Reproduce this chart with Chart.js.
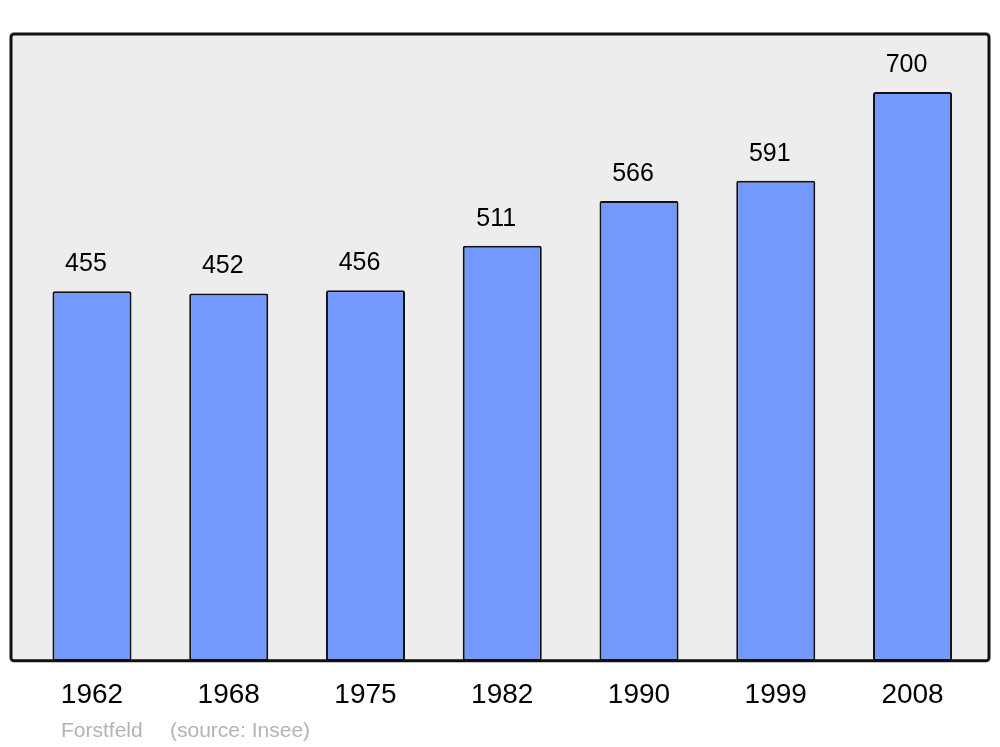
<!DOCTYPE html>
<html lang="fr">
<head>
<meta charset="utf-8" />
<title>Forstfeld population</title>
<script src="https://cdn.jsdelivr.net/npm/chart.js@4.4"></script>
<style>
  html,body{margin:0;padding:0;background:#fff;}
  #wrap{width:1000px;height:747px;position:relative;}
</style>
</head>
<body>
<div id="wrap"><canvas id="pop"></canvas></div>
<script>
/***** ---------- Data ---------- *****/
const years=['1962','1968','1975','1982','1990','1999','2008'];
const population=[455,452,456,511,566,591,700];
const place='Forstfeld';
const source='(source: Insee)';

const FONT="'Liberation Sans',Arial,sans-serif";

/***** ---------- Plugins ---------- *****/
// grey frame behind the bars, border drawn on top
function frameRect(area){
  return {x:area.left-12.6,y:area.top,w:(area.right+8.1)-(area.left-12.6),h:area.bottom-area.top};
}
const framePlugin={
  id:'frame',
  beforeDatasetsDraw(chart){
    const {ctx}=chart,r=frameRect(chart.chartArea);
    ctx.save();
    ctx.beginPath();ctx.roundRect(r.x,r.y,r.w,r.h,3);
    ctx.fillStyle='#ededed';ctx.fill();
    ctx.restore();
  },
  afterDatasetsDraw(chart){
    const {ctx}=chart,r=frameRect(chart.chartArea);
    ctx.save();
    ctx.beginPath();ctx.roundRect(r.x,r.y,r.w,r.h,3);
    ctx.lineWidth=3;ctx.strokeStyle='#111';ctx.stroke();
    // value labels
    ctx.font='25px '+FONT;ctx.fillStyle='#000';ctx.textAlign='center';ctx.textBaseline='middle';
    chart.getDatasetMeta(0).data.forEach((bar,i)=>{
      ctx.fillText(String(population[i]),bar.x-6,bar.y-27);
    });
    // footer
    ctx.font='21px '+FONT;ctx.fillStyle='#b3b3b3';ctx.textAlign='left';
    ctx.fillText(place,61,731);
    ctx.fillText(source,170,731);
    ctx.restore();
  }
};

/***** ---------- Chart ---------- *****/
new Chart(document.getElementById('pop'),{
  type:'bar',
  data:{labels:years,datasets:[{
    data:population,
    backgroundColor:'#7399ff',
    borderColor:'#111',
    borderWidth:2,
    borderRadius:2,
    borderSkipped:false,
    categoryPercentage:1,
    barPercentage:0.578
  }]},
  options:{
    responsive:true,maintainAspectRatio:false,animation:false,
    layout:{padding:{top:34,left:23.6,right:19.1,bottom:16.6}},
    plugins:{legend:{display:false},tooltip:{enabled:false}},
    scales:{
      x:{grid:{display:false,drawTicks:false},border:{display:false},
         ticks:{color:'#000',font:{family:FONT,size:28},padding:18}},
      y:{display:false,min:0,max:771.5}
    }
  },
  plugins:[framePlugin]
});
</script>
</body>
</html>
